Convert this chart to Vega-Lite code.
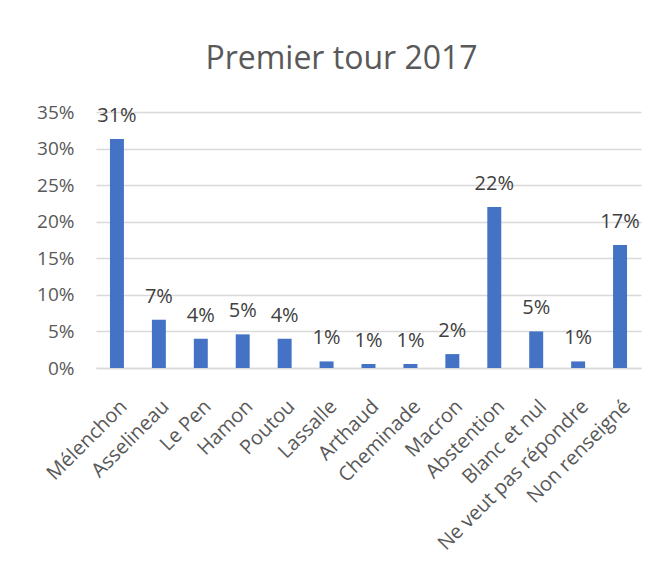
{
  "$schema": "https://vega.github.io/schema/vega-lite/v6.json",
  "autosize": {"type": "none"},
  "width": 545,
  "height": 256,
  "padding": {"left": 96, "top": 112, "right": 19, "bottom": 197},
  "background": "white",
  "title": {
    "text": "Premier tour 2017",
    "anchor": "middle",
    "dx": -27,
    "offset": 27,
    "fontSize": 32,
    "font": "Open Sans",
    "fontWeight": "normal",
    "color": "#595959"
  },
  "data": {
    "values": [
      {"nom": "Mélenchon", "part": 0.313},
      {"nom": "Asselineau", "part": 0.066},
      {"nom": "Le Pen", "part": 0.040},
      {"nom": "Hamon", "part": 0.046},
      {"nom": "Poutou", "part": 0.040},
      {"nom": "Lassalle", "part": 0.009},
      {"nom": "Arthaud", "part": 0.0055},
      {"nom": "Cheminade", "part": 0.0055},
      {"nom": "Macron", "part": 0.019},
      {"nom": "Abstention", "part": 0.220},
      {"nom": "Blanc et nul", "part": 0.050},
      {"nom": "Ne veut pas répondre", "part": 0.009},
      {"nom": "Non renseigné", "part": 0.168}
    ]
  },
  "encoding": {
    "x": {
      "field": "nom",
      "type": "nominal",
      "sort": null,
      "scale": {"paddingInner": 0.667, "paddingOuter": 0.333},
      "axis": {
        "title": null,
        "labelAngle": -45,
        "labelFontSize": 20,
        "labelFont": "Open Sans",
        "labelColor": "#595959",
        "labelPadding": 28,
        "labelDx": -5,
        "labelLimit": 0,
        "labelOverlap": false,
        "ticks": false,
        "domainColor": "#d9d9d9",
        "domainWidth": 1.5,
        "grid": false
      }
    },
    "y": {
      "field": "part",
      "type": "quantitative",
      "scale": {"domain": [0, 0.35], "nice": false},
      "axis": {
        "title": null,
        "format": ".0%",
        "values": [0, 0.05, 0.1, 0.15, 0.2, 0.25, 0.3, 0.35],
        "labelFontSize": 19,
        "labelFont": "Open Sans",
        "labelColor": "#595959",
        "labelPadding": 22,
        "ticks": false,
        "domain": false,
        "gridColor": "#d9d9d9",
        "gridWidth": 1.5
      }
    }
  },
  "layer": [
    {"mark": {"type": "bar", "color": "#4472C4"}},
    {
      "mark": {"type": "text", "dy": -17, "baseline": "alphabetic", "fontSize": 20, "font": "Open Sans", "color": "#404040"},
      "encoding": {"text": {"field": "part", "type": "quantitative", "format": ".0%"}}
    }
  ],
  "config": {"view": {"stroke": null}}
}
